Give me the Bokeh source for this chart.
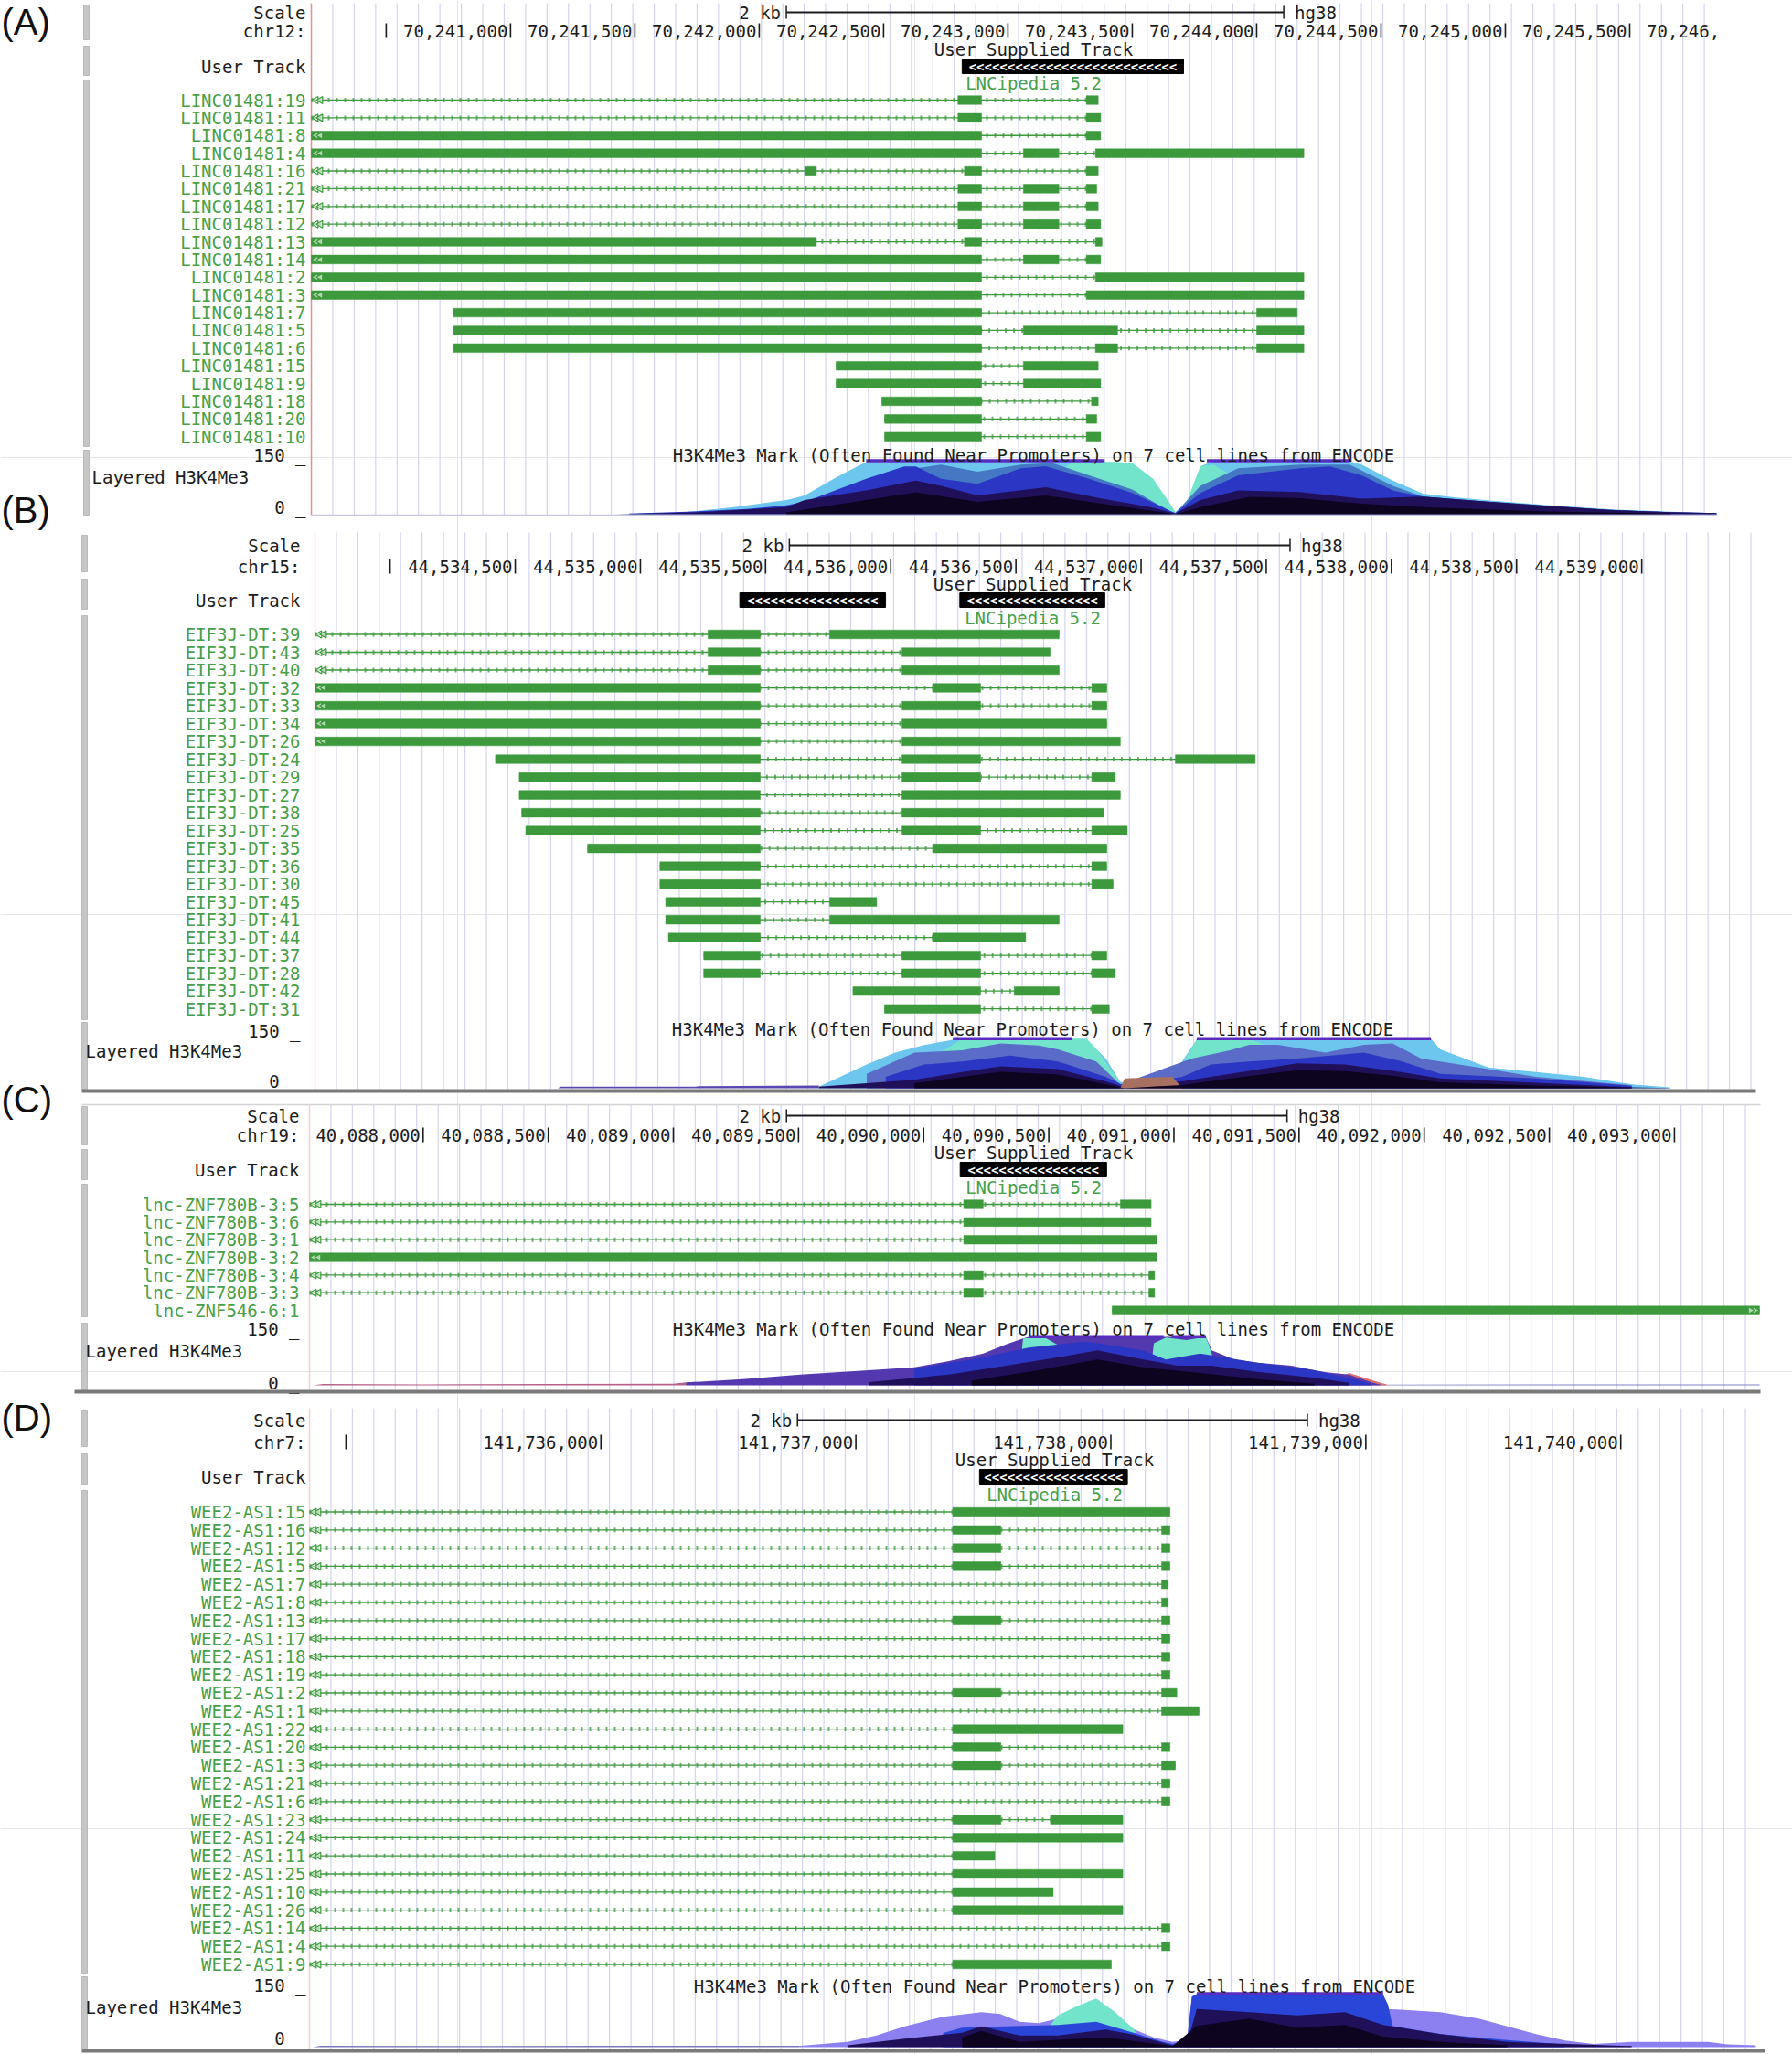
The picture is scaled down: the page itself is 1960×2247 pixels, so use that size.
import numpy as np
from bokeh.plotting import figure
from bokeh.models import Range1d
from bokeh.core.properties import value
from bokeh.embed import file_html
from bokeh.resources import INLINE

# ======================= DATA =======================
TITLE = "H3K4Me3 Mark (Often Found Near Promoters) on 7 cell lines from ENCODE"

# ---------- Panel A : chr12, LINC01481 ----------
A_window = (70240199, 70245853)
A_chrom = "chr12:"
A_tick_step = 500
A_scalebar = (70242109, 2000)
A_user = [(70242816, 70243706)]
A_names = ["LINC01481:19", "LINC01481:11", "LINC01481:8", "LINC01481:4", "LINC01481:16",
           "LINC01481:21", "LINC01481:17", "LINC01481:12", "LINC01481:13", "LINC01481:14",
           "LINC01481:2", "LINC01481:3", "LINC01481:7", "LINC01481:5", "LINC01481:6",
           "LINC01481:15", "LINC01481:9", "LINC01481:18", "LINC01481:20", "LINC01481:10"]
A_tx_start = [70239500] * 12 + [70240771, 70240771, 70240771, 70242309, 70242309,
                                70242493, 70242504, 70242504]
A_exons = [
    [(70242799, 70242894), (70243315, 70243363)],
    [(70242799, 70242894), (70243315, 70243373)],
    [(70239500, 70242894), (70243315, 70243373)],
    [(70239500, 70242894), (70243062, 70243205), (70243352, 70244190)],
    [(70242183, 70242230), (70242825, 70242894), (70243315, 70243363)],
    [(70242799, 70242894), (70243062, 70243205), (70243315, 70243357)],
    [(70242799, 70242894), (70243062, 70243205), (70243315, 70243363)],
    [(70242799, 70242894), (70243062, 70243205), (70243315, 70243373)],
    [(70239500, 70242230), (70242825, 70242894), (70243352, 70243378)],
    [(70239500, 70242894), (70243062, 70243205), (70243315, 70243373)],
    [(70239500, 70242894), (70243352, 70244190)],
    [(70239500, 70242894), (70243315, 70244190)],
    [(70240771, 70242894), (70244000, 70244163)],
    [(70240771, 70242894), (70243062, 70243441), (70244000, 70244190)],
    [(70240771, 70242894), (70243352, 70243441), (70244000, 70244190)],
    [(70242309, 70242894), (70243062, 70243363)],
    [(70242309, 70242894), (70243062, 70243373)],
    [(70242493, 70242894), (70243336, 70243363)],
    [(70242504, 70242894), (70243315, 70243357)],
    [(70242504, 70242894), (70243315, 70243373)],
]
A_light_x = [70241424, 70241688, 70241898, 70242109, 70242183, 70242309, 70242430, 70242530,
             70243268, 70243326, 70243426, 70243573, 70243673, 70243716, 70243774, 70243826,
             70244374, 70244422, 70244548, 70244669, 70244795, 70244917, 70245169, 70245417,
             70245665, 70245849]
A_light_v = [0, 5, 20, 40, 53, 104, 148, 150, 150, 140, 110, 60, 5, 20, 136, 150,
             150, 140, 95, 58, 48, 40, 26, 14, 7, 3]
A_turq_x = [70243152, 70243268, 70243426, 70243500, 70243584, 70243652, 70243673,
            70243716, 70243774, 70243826, 70243874, 70243926]
A_turq_v = [100, 150, 148, 145, 100, 30, 7, 30, 136, 140, 120, 100]
A_steel_x = [70242183, 70242430, 70242630, 70242731, 70242878, 70243052, 70243178, 70243326,
             70243500, 70243652, 70243673, 70243774, 70243926, 70244174, 70244374, 70244548,
             70244669, 70244917, 70245169, 70245417, 70245665, 70245849]
A_steel_v = [30, 90, 130, 140, 120, 140, 145, 110, 70, 8, 3, 80, 130, 140, 140, 80,
             50, 35, 22, 12, 6, 2]
A_blue_x = [70241477, 70241741, 70241951, 70242109, 70242183, 70242430, 70242583, 70242630,
            70242731, 70242878, 70243052, 70243152, 70243326, 70243500, 70243652, 70243673,
            70243774, 70243926, 70244174, 70244295, 70244422, 70244548, 70244669, 70244917,
            70245169, 70245417, 70245665, 70245849]
A_blue_v = [2, 8, 15, 25, 35, 100, 135, 135, 100, 86, 130, 136, 100, 60, 10, 3,
            60, 110, 130, 135, 110, 67, 50, 36, 24, 12, 6, 3]
A_navy_x = [70241424, 70241741, 70242109, 70242183, 70242430, 70242630, 70242731, 70242878,
            70243152, 70243378, 70243573, 70243673, 70243774, 70243926, 70244174, 70244422,
            70244669, 70244917, 70245169, 70245417, 70245665, 70245849]
A_navy_v = [0, 5, 20, 40, 67, 95, 80, 53, 76, 44, 20, 2, 40, 67, 63, 44, 50, 36, 24, 12, 6, 3]
A_black_x = [70242109, 70242430, 70242630, 70242878, 70243152, 70243378, 70243673, 70243774,
             70243974, 70244174, 70244422, 70244669, 70245169, 70245665]
A_black_v = [5, 40, 62, 35, 53, 30, 0, 20, 49, 45, 30, 20, 8, 2]
A_clip = [(70242430, 70243389), (70243800, 70244374)]

# ---------- Panel B : chr15, EIF3J-DT ----------
B_window = (44533700, 44539456)
B_chrom = "chr15:"
B_tick_step = 500
B_scalebar = (44535595, 2000)
B_user = [(44535397, 44535979), (44536276, 44536855)]
B_names = ["EIF3J-DT:39", "EIF3J-DT:43", "EIF3J-DT:40", "EIF3J-DT:32", "EIF3J-DT:33",
           "EIF3J-DT:34", "EIF3J-DT:26", "EIF3J-DT:24", "EIF3J-DT:29", "EIF3J-DT:27",
           "EIF3J-DT:38", "EIF3J-DT:25", "EIF3J-DT:35", "EIF3J-DT:36", "EIF3J-DT:30",
           "EIF3J-DT:45", "EIF3J-DT:41", "EIF3J-DT:44", "EIF3J-DT:37", "EIF3J-DT:28",
           "EIF3J-DT:42", "EIF3J-DT:31"]
B_tx_start = [44533400] * 7 + [44534421, 44534516, 44534516, 44534526, 44534542, 44534789,
                               44535078, 44535078, 44535101, 44535101, 44535112, 44535253,
                               44535253, 44535849, 44535975]
B_exons = [
    [(44535270, 44535479), (44535756, 44536673)],
    [(44535270, 44535479), (44536045, 44536637)],
    [(44535270, 44535479), (44536045, 44536673)],
    [(44533400, 44535479), (44536167, 44536359), (44536803, 44536863)],
    [(44533400, 44535479), (44536045, 44536359), (44536803, 44536863)],
    [(44533400, 44535479), (44536045, 44536863)],
    [(44533400, 44535479), (44536045, 44536917)],
    [(44534421, 44535479), (44536045, 44536359), (44537137, 44537456)],
    [(44534516, 44535479), (44536045, 44536359), (44536803, 44536897)],
    [(44534516, 44535479), (44536045, 44536917)],
    [(44534526, 44535479), (44536045, 44536852)],
    [(44534542, 44535479), (44536045, 44536359), (44536803, 44536945)],
    [(44534789, 44535479), (44536167, 44536863)],
    [(44535078, 44535479), (44536803, 44536863)],
    [(44535078, 44535479), (44536803, 44536888)],
    [(44535101, 44535479), (44535756, 44535944)],
    [(44535101, 44535479), (44535756, 44536673)],
    [(44535112, 44535479), (44536167, 44536539)],
    [(44535253, 44535479), (44536045, 44536359), (44536803, 44536863)],
    [(44535253, 44535479), (44536045, 44536359), (44536803, 44536897)],
    [(44535849, 44536359), (44536493, 44536673)],
    [(44535975, 44536359), (44536803, 44536873)],
]
B_low_x = [44534670, 44534681, 44534873, 44534987, 44535216, 44535236, 44535713]
B_low_v = [0, 5, 5, 5, 5, 6, 8]
B_light_x = [44535713, 44535904, 44536018, 44536133, 44536248, 44536286, 44536782, 44536859,
             44536916, 44536935, 44537126, 44537164, 44537222, 44538158, 44538196, 44538387,
             44538578, 44538769, 44538960, 44539113]
B_light_v = [5, 72, 108, 131, 147, 150, 150, 90, 20, 17, 30, 81, 147, 150, 118, 63,
             49, 35, 12, 3]
B_turq_x = [44536200, 44536286, 44536782, 44536821, 44536859, 44536916, 44537126, 44537164,
            44537222, 44537432, 44537500]
B_turq_v = [110, 150, 150, 120, 80, 15, 15, 70, 147, 150, 130]
B_steel_x = [44535904, 44536095, 44536286, 44536439, 44536592, 44536668, 44536821, 44536916,
             44537203, 44537355, 44537432, 44537547, 44537737, 44537890, 44538005, 44538119,
             44538387, 44538578, 44538960]
B_steel_v = [44, 108, 115, 136, 130, 118, 81, 12, 90, 115, 132, 132, 108, 132, 136, 90,
             58, 35, 9]
B_blue_x = [44535980, 44536133, 44536286, 44536477, 44536668, 44536859, 44536935, 44537164,
            44537279, 44537432, 44537623, 44537890, 44538043, 44538196, 44538578, 44538960]
B_blue_v = [35, 72, 81, 99, 81, 35, 7, 35, 72, 81, 90, 108, 81, 44, 30, 7]
B_navy_x = [44535713, 44536095, 44536286, 44536439, 44536668, 44536859, 44536935, 44537164,
            44537355, 44537623, 44537814, 44538005, 44538196, 44538578, 44538960, 44539113]
B_navy_v = [5, 26, 49, 67, 58, 21, 3, 21, 44, 76, 72, 53, 30, 17, 3, 1]
B_brown_x = [44536916, 44536935, 44537126, 44537164]
B_brown_v = [0, 30, 35, 0]
B_black_x = [44536095, 44536286, 44536439, 44536668, 44536859, 44536935, 44537164, 44537355,
             44537623, 44537814, 44538005, 44538196, 44538578, 44538960]
B_black_v = [15, 35, 50, 42, 12, 0, 10, 30, 55, 52, 38, 18, 8, 2]
B_clip = [(44536248, 44536725), (44537222, 44538158)]

# ---------- Panel C : chr19, lnc-ZNF780B-3 ----------
C_window = (40087546, 40093340)
C_chrom = "chr19:"
C_tick_step = 500
C_scalebar = (40089452, 2000)
C_user = [(40090146, 40090731)]
C_names = ["lnc-ZNF780B-3:5", "lnc-ZNF780B-3:6", "lnc-ZNF780B-3:1", "lnc-ZNF780B-3:2",
           "lnc-ZNF780B-3:4", "lnc-ZNF780B-3:3", "lnc-ZNF546-6:1"]
C_tx_start = [40087200] * 6 + [40090753]
C_exons = [
    [(40090160, 40090238), (40090786, 40090909)],
    [(40090160, 40090909)],
    [(40090160, 40090932)],
    [(40087200, 40090932)],
    [(40090160, 40090238), (40090900, 40090923)],
    [(40090160, 40090238), (40090900, 40090923)],
    [(40090753, 40093600)],
]
C_low_x = [40087560, 40087600, 40088000, 40088500, 40089000, 40089050]
C_low_v = [0, 4, 3, 4, 5, 9]
C_tail_x = [40091836, 40092500, 40093340]
C_tail_v = [2, 3, 3]
C_pink_x = [40091600, 40091700, 40091800, 40091850]
C_pink_v = [0, 38, 14, 3]
C_purple_x = [40089050, 40089278, 40089507, 40089781, 40089963, 40090101, 40090238, 40090329,
              40090397, 40090420, 40091128, 40091151, 40091242, 40091333, 40091470, 40091562,
              40091608, 40091699, 40091790, 40091836]
C_purple_v = [9, 19, 33, 47, 56, 75, 98, 127, 145, 150, 150, 108, 80, 70, 61, 47, 40, 33, 9, 0]
C_turq_x = [40090380, 40090397, 40090480, 40090557, 40090580, 40090585, 40090900, 40090920,
            40090968, 40091050, 40091128, 40091151, 40091160]
C_turq_v = [0, 145, 150, 115, 60, 0, 0, 130, 148, 140, 150, 100, 0]
C_blue_x = [40089963, 40090192, 40090420, 40090649, 40090877, 40090968, 40091105, 40091333,
            40091562, 40091790]
C_blue_v = [52, 80, 117, 136, 108, 80, 98, 70, 47, 5]
C_navy_x = [40089781, 40090101, 40090329, 40090557, 40090694, 40090877, 40091014, 40091151,
            40091333, 40091562, 40091699]
C_navy_v = [10, 33, 61, 89, 108, 80, 61, 61, 42, 23, 8]
C_black_x = [40090192, 40090420, 40090694, 40090877, 40091105, 40091333, 40091562]
C_black_v = [15, 42, 80, 56, 38, 19, 5]
C_clip = [(40090420, 40090959), (40090991, 40091128)]

# ---------- Panel D : chr7, WEE2-AS1 ----------
D_window = (141734857, 141740530)
D_chrom = "chr7:"
D_tick_step = 1000
D_scalebar = (141736771, 2000)
D_user = [(141737485, 141738065)]
D_names = ["WEE2-AS1:15", "WEE2-AS1:16", "WEE2-AS1:12", "WEE2-AS1:5", "WEE2-AS1:7",
           "WEE2-AS1:8", "WEE2-AS1:13", "WEE2-AS1:17", "WEE2-AS1:18", "WEE2-AS1:19",
           "WEE2-AS1:2", "WEE2-AS1:1", "WEE2-AS1:22", "WEE2-AS1:20", "WEE2-AS1:3",
           "WEE2-AS1:21", "WEE2-AS1:6", "WEE2-AS1:23", "WEE2-AS1:24", "WEE2-AS1:11",
           "WEE2-AS1:25", "WEE2-AS1:10", "WEE2-AS1:26", "WEE2-AS1:14", "WEE2-AS1:4",
           "WEE2-AS1:9"]
D_tx_start = [141734500] * 26
D_exons = [
    [(141737380, 141738232)],
    [(141737380, 141737569), (141738199, 141738232)],
    [(141737380, 141737569), (141738199, 141738232)],
    [(141737380, 141737569), (141738199, 141738232)],
    [(141738199, 141738225)],
    [(141738199, 141738225)],
    [(141737380, 141737569), (141738199, 141738232)],
    [(141738199, 141738232)],
    [(141738199, 141738232)],
    [(141738199, 141738232)],
    [(141737380, 141737569), (141738199, 141738259)],
    [(141738199, 141738346)],
    [(141737380, 141738047)],
    [(141737380, 141737569), (141738199, 141738232)],
    [(141737380, 141737569), (141738199, 141738253)],
    [(141738199, 141738232)],
    [(141738199, 141738232)],
    [(141737380, 141737569), (141737763, 141738047)],
    [(141737380, 141738047)],
    [(141737380, 141737545)],
    [(141737380, 141738047)],
    [(141737380, 141737774)],
    [(141737380, 141738047)],
    [(141738199, 141738232)],
    [(141738199, 141738232)],
    [(141737380, 141738002)],
]
D_low_x = [141734870, 141734900, 141735500, 141736000, 141736500, 141736780]
D_low_v = [0, 4, 3, 4, 4, 4]
D_lav_x = [141736780, 141736817, 141736967, 141737080, 141737192, 141737342, 141737492,
           141737567, 141737642, 141737717, 141737792, 141737867, 141737942, 141738017,
           141738092, 141738167, 141738242, 141738299, 141738318, 141738337, 141739068,
           141739087, 141739293, 141739443, 141739555, 141739668, 141739781, 141739893,
           141740043, 141740200, 141740343, 141740418, 141740530]
D_lav_v = [4, 6, 15, 33, 59, 86, 99, 94, 72, 68, 81, 95, 90, 80, 50, 28, 15, 20, 143, 150,
           150, 108, 99, 81, 59, 37, 19, 9, 15, 15, 15, 8, 5]
D_turq_x = [141737760, 141737792, 141737867, 141737942, 141738017, 141738092, 141738120]
D_turq_v = [60, 90, 116, 138, 99, 50, 0]
D_blue_x = [141737342, 141737417, 141737642, 141737792, 141737942, 141738092, 141738205,
            141738242, 141738299, 141738318, 141738337, 141739068, 141739087, 141739105,
            141739293, 141739555, 141739781]
D_blue_v = [40, 55, 60, 63, 72, 40, 15, 9, 20, 143, 150, 148, 120, 60, 37, 20, 8]
D_navy_x = [141736967, 141737192, 141737417, 141737492, 141737642, 141737792, 141737980,
            141738092, 141738242, 141738299, 141738337, 141738543, 141738730, 141738918,
            141739068, 141739293, 141739555, 141740043]
D_navy_v = [5, 24, 41, 59, 33, 33, 50, 35, 5, 10, 108, 99, 90, 99, 63, 37, 15, 3]
D_black_x = [141737417, 141737492, 141737642, 141737980, 141738242, 141738337, 141738543,
             141738730, 141738918, 141739068, 141739293, 141739555]
D_black_v = [28, 46, 15, 28, 3, 60, 81, 55, 63, 30, 15, 5]
D_clip = [(141738337, 141739068)]

# ======================= STYLE / LAYOUT =======================
W, H = 1960, 2247
FONT = value("DejaVu Sans Mono")
FS = 19
CW = 0.602 * FS
TXT = "#1c1c1c"
GREEN = "#3c9a3c"
LGREEN = "#48a048"
GRID = "#d4d4f2"
C_LIGHT, C_TURQ, C_STEEL, C_LAV = "#6cc6ee", "#72e4cc", "#4478c4", "#8c80f0"
C_PURP, C_BLUE, C_NAVY, C_BLACK = "#5438b0", "#2c36c4", "#20105a", "#0d0420"
C_CLIP = "#5a2cc0"

PANELS = {
    "A": dict(letter="(A)", letter_y=23, px=(340, 1878), label_x=334, layered_x=100,
              scale_y=13, chr_y=33, ust_y=53, user_y=72, lnc_y=90, row0=109, dy=19.38,
              sig150=504, sig0=562, lab150=497, lab_layered=521, lab0=554, title_y=497,
              title_x=1130, grid_y=(3, 563), bars=[(5, 43), (50, 82), (87, 488), (492, 563)],
              bar_x=91, pink="#f08c8c", bottom=None, tail=True,
              window=A_window, chrom=A_chrom, step=A_tick_step, sb=A_scalebar, user=A_user,
              names=A_names, tx_start=A_tx_start, exons=A_exons, clip=A_clip,
              layers=[(A_light_x, A_light_v, C_LIGHT), (A_turq_x, A_turq_v, C_TURQ),
                      (A_steel_x, A_steel_v, C_STEEL), (A_blue_x, A_blue_v, C_BLUE),
                      (A_navy_x, A_navy_v, C_NAVY), (A_black_x, A_black_v, C_BLACK)]),
    "B": dict(letter="(B)", letter_y=557, px=(344, 1920), label_x=328, layered_x=93,
              scale_y=596, chr_y=619, ust_y=638, user_y=656, lnc_y=675, row0=693.5, dy=19.51,
              sig150=1136, sig0=1190, lab150=1127, lab_layered=1149, lab0=1182, title_y=1125,
              title_x=1129, grid_y=(582, 1191),
              bars=[(585, 625), (633, 666), (673, 1115), (1118, 1191)],
              bar_x=89, pink="#f6d0d0", bottom=(89, 1920, 1191, 1195), tail=False,
              window=B_window, chrom=B_chrom, step=B_tick_step, sb=B_scalebar, user=B_user,
              names=B_names, tx_start=B_tx_start, exons=B_exons, clip=B_clip,
              layers=[(B_low_x, B_low_v, "#5a48b0"), (B_light_x, B_light_v, C_LIGHT),
                      (B_turq_x, B_turq_v, C_TURQ), (B_steel_x, B_steel_v, "#5a6cc8"),
                      (B_blue_x, B_blue_v, C_BLUE), (B_navy_x, B_navy_v, C_NAVY),
                      (B_brown_x, B_brown_v, "#a87060"), (B_black_x, B_black_v, C_BLACK)]),
    "C": dict(letter="(C)", letter_y=1202, px=(338, 1924), label_x=327, layered_x=93,
              scale_y=1220, chr_y=1241, ust_y=1260, user_y=1279, lnc_y=1298, row0=1317, dy=19.35,
              sig150=1462, sig0=1515, lab150=1453, lab_layered=1477, lab0=1512, title_y=1453,
              title_x=1130, grid_y=(1208, 1520),
              bars=[(1210, 1252), (1257, 1290), (1295, 1440), (1447, 1520)],
              bar_x=89, pink="#f6d0d0", bottom=(81, 1925, 1520, 1524), tail=False,
              window=C_window, chrom=C_chrom, step=C_tick_step, sb=C_scalebar, user=C_user,
              names=C_names, tx_start=C_tx_start, exons=C_exons, clip=C_clip,
              layers=[(C_low_x, C_low_v, "#b86088"), (C_tail_x, C_tail_v, "#8080c0"),
                      (C_pink_x, C_pink_v, "#e07070"), (C_purple_x, C_purple_v, C_PURP),
                      (C_turq_x, C_turq_v, C_TURQ), (C_blue_x, C_blue_v, C_BLUE),
                      (C_navy_x, C_navy_v, C_NAVY), (C_black_x, C_black_v, C_BLACK)]),
    "D": dict(letter="(D)", letter_y=1550, px=(338, 1920), label_x=334, layered_x=93,
              scale_y=1553, chr_y=1577, ust_y=1596, user_y=1615, lnc_y=1634, row0=1653.5, dy=19.8,
              sig150=2181, sig0=2239, lab150=2171, lab_layered=2195, lab0=2229, title_y=2172,
              title_x=1153, grid_y=(1540, 2241),
              bars=[(1543, 1582), (1590, 1623), (1630, 2158), (2162, 2241)],
              bar_x=89, pink="#f6d0d0", bottom=(89, 1930, 2241, 2245), tail=False,
              window=D_window, chrom=D_chrom, step=D_tick_step, sb=D_scalebar, user=D_user,
              names=D_names, tx_start=D_tx_start, exons=D_exons, clip=D_clip,
              layers=[(D_low_x, D_low_v, "#7c78b8"), (D_lav_x, D_lav_v, C_LAV),
                      (D_turq_x, D_turq_v, C_TURQ), (D_blue_x, D_blue_v, "#2a46d8"),
                      (D_navy_x, D_navy_v, C_NAVY), (D_black_x, D_black_v, C_BLACK)]),
}

# ======================= FIGURE =======================
p = figure(width=W, height=H, x_range=Range1d(0, W), y_range=Range1d(H, 0),
           output_backend="svg", toolbar_location=None, min_border=0,
           x_axis_location=None, y_axis_location=None)
p.outline_line_color = None
p.background_fill_color = "white"
p.border_fill_color = "white"

xr, yr, K = {}, {}, {}
for key, L in PANELS.items():
    w0, w1 = L["window"]
    px0, px1 = L["px"]
    k = (px1 - px0) / (w1 - w0)
    K[key] = k
    s = w0 - px0 / k
    xr[key] = Range1d(s, s + W / k)
    f0 = (H - L["sig0"]) / H
    f150 = (H - L["sig150"]) / H
    span = 150.0 / (f150 - f0)
    a = -span * f0
    yr["s" + key] = Range1d(a, a + span)
p.extra_x_ranges = xr
p.extra_y_ranges = yr


def txt(xs, ys, texts, key=None, color=TXT, align="left", size=FS, font=FONT, style="normal"):
    kw = dict(x=list(xs), y=list(ys), text=list(texts), text_color=color, text_align=align,
              text_baseline="middle", text_font=font, text_font_size=f"{size}px",
              text_font_style=style)
    if key:
        kw["x_range_name"] = key
    p.text(**kw)


for key, L in PANELS.items():
    k = K[key]
    w0, w1 = L["window"]
    px0, px1 = L["px"]
    gy0, gy1 = L["grid_y"]

    # guide lines
    step = 23.44 / k
    gx = np.arange(w0 + step, w1, step)
    p.segment(x0=gx, y0=[gy0] * len(gx), x1=gx, y1=[gy1] * len(gx), line_color=GRID,
              line_width=1.2, x_range_name=key)
    p.segment(x0=[w0], y0=[gy0], x1=[w0], y1=[gy1], line_color=L["pink"], line_width=1.5,
              x_range_name=key)

    # side buttons
    bx = L["bar_x"]
    bt = [b[0] for b in L["bars"]]
    bb = [b[1] for b in L["bars"]]
    p.quad(left=[bx] * len(bt), right=[bx + 6] * len(bt), top=bt, bottom=bb,
           fill_color="#c6c6c6", line_color="#b0b0b0", line_width=0.8)

    # panel letter
    txt([1], [L["letter_y"]], [L["letter"]], font=value("Liberation Sans"), size=40,
        color="#111111")

    # left labels
    txt([L["label_x"]] * 3, [L["scale_y"], L["chr_y"], L["user_y"]],
        ["Scale", L["chrom"], "User Track"], align="right")

    # scale bar
    sb0, sblen = L["sb"]
    sb1 = sb0 + sblen
    sy = L["scale_y"]
    p.segment(x0=[sb0], y0=[sy], x1=[sb1], y1=[sy], line_color=TXT, line_width=2,
              x_range_name=key)
    p.segment(x0=[sb0, sb1], y0=[sy - 7] * 2, x1=[sb0, sb1], y1=[sy + 7] * 2,
              line_color=TXT, line_width=1.5, x_range_name=key)
    txt([sb0 - 6 / k], [sy], [f"{sblen // 1000} kb"], key=key, align="right")
    txt([sb1 + 12 / k], [sy], ["hg38"], key=key)

    # ruler
    st = L["step"]
    ticks = np.arange(np.ceil(w0 / st) * st, w1 + 3 * st, st)
    cy = L["chr_y"]
    tk_x, lab_x, lab_t, tail_x, tail_t = [], [], [], [], []
    for t in ticks:
        tpx = px0 + (t - w0) * k
        lab = f"{int(t):,}"
        lleft = tpx - 3 - len(lab) * CW
        if tpx <= px1:
            tk_x.append(t)
            if lleft >= px0:
                lab_x.append(t - 3 / k)
                lab_t.append(lab)
        elif L["tail"] and lleft < px1:
            n = int((px1 - lleft) / CW + 0.5)
            if n > 0:
                tail_x.append(w0 + (lleft - px0) / k)
                tail_t.append(lab[:n])
    p.segment(x0=tk_x, y0=[cy - 8] * len(tk_x), x1=tk_x, y1=[cy + 8] * len(tk_x),
              line_color=TXT, line_width=1.6, x_range_name=key)
    txt(lab_x, [cy] * len(lab_x), lab_t, key=key, align="right")
    if tail_x:
        txt(tail_x, [cy] * len(tail_x), tail_t, key=key)

    # user supplied track
    txt([L["title_x"]], [L["ust_y"]], ["User Supplied Track"], align="center")
    uy = L["user_y"]
    ul = [u[0] for u in L["user"]]
    ur = [u[1] for u in L["user"]]
    p.quad(left=ul, right=ur, top=[uy - 8] * len(ul), bottom=[uy + 8] * len(ul),
           fill_color="black", line_color="black", x_range_name=key)
    chev = ["<" * max(1, int((b - a) * k / 8.5) - 1) for a, b in L["user"]]
    txt([(a + b) / 2 for a, b in L["user"]], [uy + 0.5] * len(ul), chev, key=key,
        color="white", align="center", size=14, style="bold")
    txt([L["title_x"]], [L["lnc_y"]], ["LNCipedia 5.2"], color=LGREEN, align="center")

    # transcripts
    names, tx_start, exons = L["names"], L["tx_start"], L["exons"]
    n = len(names)
    ys = [L["row0"] + i * L["dy"] for i in range(n)]
    tx_end = [ex[-1][1] for ex in exons]
    ix0 = [max(s, w0) for s in tx_start]
    ix1 = [min(e, w1) for e in tx_end]
    p.segment(x0=ix0, y0=ys, x1=ix1, y1=ys, line_color=GREEN, line_width=1.3,
              x_range_name=key)
    p.segment(x0=ix0, y0=ys, x1=ix1, y1=ys, line_color=GREEN, line_width=5,
              line_dash="2 7", line_alpha=0.75, x_range_name=key)
    el, er, ey = [], [], []
    for y, ex in zip(ys, exons):
        for a, b in ex:
            el.append(max(a, w0))
            er.append(min(b, w1))
            ey.append(y)
    p.quad(left=el, right=er, top=[y - 4.8 for y in ey], bottom=[y + 4.8 for y in ey],
           fill_color=GREEN, line_color=GREEN, line_width=0.5, x_range_name=key)
    ly = [y for y, s in zip(ys, tx_start) if s < w0]
    for off in (5, 10):
        p.scatter(x=[w0 + off / k] * len(ly), y=ly, marker="triangle", angle=np.pi / 2,
                  size=8, fill_color="white", fill_alpha=0.6, line_color=GREEN,
                  line_width=1.2, x_range_name=key)
    ry = [y for y, e in zip(ys, tx_end) if e > w1]
    for off in (5, 10):
        p.scatter(x=[w1 - off / k] * len(ry), y=ry, marker="triangle", angle=-np.pi / 2,
                  size=8, fill_color="white", fill_alpha=0.6, line_color=GREEN,
                  line_width=1.2, x_range_name=key)
    txt([L["label_x"]] * n, ys, names, color=LGREEN, align="right")

    # layered H3K4Me3 signal
    for xs, vs, col in L["layers"]:
        p.varea(x=xs, y1=[0] * len(xs), y2=np.minimum(vs, 150), fill_color=col,
                x_range_name=key, y_range_name="s" + key)
    cl0 = [c[0] for c in L["clip"]]
    cl1 = [c[1] for c in L["clip"]]
    p.segment(x0=cl0, y0=[151] * len(cl0), x1=cl1, y1=[151] * len(cl0), line_color=C_CLIP,
              line_width=3.5, x_range_name=key, y_range_name="s" + key)
    txt([L["label_x"]] * 2, [L["lab150"], L["lab0"]], ["150 _", "0 _"], align="right")
    txt([L["layered_x"]], [L["lab_layered"]], ["Layered H3K4Me3"])
    txt([L["title_x"]], [L["title_y"]], [TITLE], align="center")
    if L["bottom"]:
        x0b, x1b, y0b, y1b = L["bottom"]
        p.quad(left=[x0b], right=[x1b], top=[y0b], bottom=[y1b], fill_color="#7a7a7a",
               line_color=None)
    else:
        p.segment(x0=[w0], y0=[gy1], x1=[w1], y1=[gy1], line_color="#c8c8e0", line_width=1.5,
                  x_range_name=key)

# light frame line atop panel C
p.segment(x0=[89], y0=[1208], x1=[1925], y1=[1208], line_color="#d4d4d4", line_width=1.5)

open("out.html", "w").write(file_html(p, INLINE))
